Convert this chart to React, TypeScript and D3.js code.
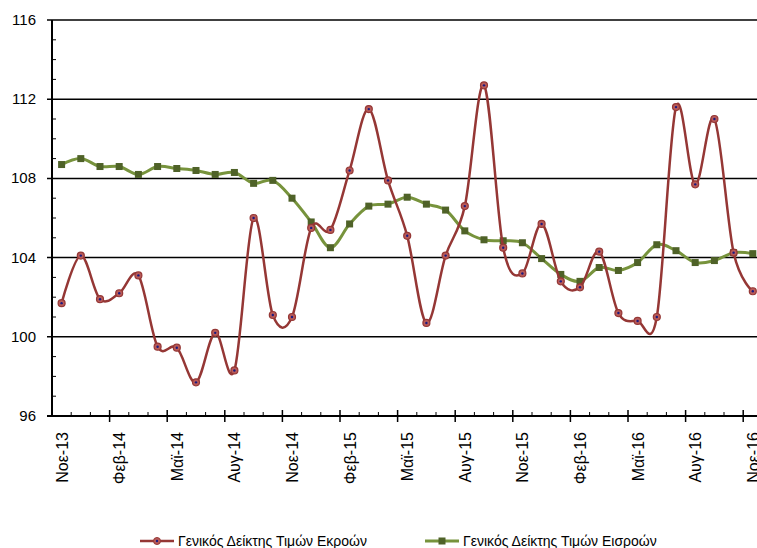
import React, { useEffect, useRef } from 'react';
import * as d3 from 'd3';

// monthly categories, Nov-13 .. Nov-16
const months = [
  'Νοε-13', 'Δεκ-13', 'Ιαν-14', 'Φεβ-14', 'Μαρ-14', 'Απρ-14', 'Μαϊ-14', 'Ιουν-14', 'Ιουλ-14', 'Αυγ-14',
  'Σεπ-14', 'Οκτ-14', 'Νοε-14', 'Δεκ-14', 'Ιαν-15', 'Φεβ-15', 'Μαρ-15', 'Απρ-15', 'Μαϊ-15', 'Ιουν-15',
  'Ιουλ-15', 'Αυγ-15', 'Σεπ-15', 'Οκτ-15', 'Νοε-15', 'Δεκ-15', 'Ιαν-16', 'Φεβ-16', 'Μαρ-16', 'Απρ-16',
  'Μαϊ-16', 'Ιουν-16', 'Ιουλ-16', 'Αυγ-16', 'Σεπ-16', 'Οκτ-16', 'Νοε-16',
];

const outputIndex = [
  101.7, 104.1, 101.9, 102.2, 103.1, 99.5, 99.45, 97.7, 100.2, 98.3,
  106.0, 101.1, 101.0, 105.5, 105.4, 108.4, 111.5, 107.9, 105.1, 100.7,
  104.1, 106.6, 112.7, 104.5, 103.2, 105.7, 102.8, 102.5, 104.3, 101.2,
  100.8, 101.0, 111.6, 107.7, 111.0, 104.25, 102.3,
];

const inputIndex = [
  108.7, 109.0, 108.6, 108.6, 108.2, 108.6, 108.5, 108.4, 108.2, 108.3,
  107.75, 107.9, 107.0, 105.8, 104.5, 105.7, 106.6, 106.7, 107.05, 106.7,
  106.4, 105.35, 104.9, 104.85, 104.75, 103.95, 103.15, 102.8, 103.5, 103.35,
  103.75, 104.65, 104.35, 103.75, 103.85, 104.25, 104.2,
];

const yTicks = [96, 100, 104, 108, 112, 116];

const seriesNames = ['Γενικός Δείκτης Τιμών Εκροών', 'Γενικός Δείκτης Τιμών Εισροών'];

const RED = '#953735';
const GREEN = '#77933c';

const App = () => {
  const ref = useRef<SVGSVGElement>(null);

  useEffect(() => {
    const svg = d3.select(ref.current);
    svg.selectAll('*').remove();

    const left = 52;
    const top = 20;
    const bottom = 416;
    const step = 19.2;

    // category axis: each month takes one band, point in the middle
    const x = d3
      .scaleBand<number>()
      .domain(d3.range(months.length))
      .range([left, left + step * months.length]);
    const cx = (i: number) => (x(i) as number) + x.bandwidth() / 2;

    const y = d3.scaleLinear().domain([96, 116]).range([bottom, top]);

    // gridlines
    svg
      .append('g')
      .selectAll('line')
      .data(yTicks.filter((t) => t > 96))
      .enter()
      .append('line')
      .attr('x1', left - 5)
      .attr('x2', 757)
      .attr('y1', (d) => y(d))
      .attr('y2', (d) => y(d))
      .attr('stroke', '#000')
      .attr('stroke-width', 1.5);

    // y minor ticks (inside)
    svg
      .append('g')
      .selectAll('line')
      .data(d3.range(97, 116).filter((v) => v % 4 !== 0))
      .enter()
      .append('line')
      .attr('x1', left)
      .attr('x2', left + 4)
      .attr('y1', (d) => y(d))
      .attr('y2', (d) => y(d))
      .attr('stroke', '#000')
      .attr('stroke-width', 1);

    // y labels
    svg
      .append('g')
      .selectAll('text')
      .data(yTicks)
      .enter()
      .append('text')
      .attr('x', 36)
      .attr('y', (d) => y(d) + 5)
      .attr('text-anchor', 'end')
      .style('font-family', 'Liberation Sans, sans-serif')
      .style('font-size', '15px')
      .attr('fill', '#000')
      .text((d) => d);

    // y axis line
    svg
      .append('line')
      .attr('x1', left)
      .attr('x2', left)
      .attr('y1', top)
      .attr('y2', bottom + 1)
      .attr('stroke', '#000')
      .attr('stroke-width', 2);

    // x axis line + ticks between categories
    svg
      .append('line')
      .attr('x1', left - 5)
      .attr('x2', 757)
      .attr('y1', bottom)
      .attr('y2', bottom)
      .attr('stroke', '#000')
      .attr('stroke-width', 2);

    const bounds = d3.range(1, months.length + 1);
    svg
      .append('g')
      .selectAll('line')
      .data(bounds)
      .enter()
      .append('line')
      .attr('x1', (d) => left + d * step)
      .attr('x2', (d) => left + d * step)
      .attr('y1', (d) => (d % 3 === 0 ? bottom - 6 : bottom - 4))
      .attr('y2', (d) => (d % 3 === 0 ? bottom + 6 : bottom))
      .attr('stroke', '#000')
      .attr('stroke-width', (d) => (d % 3 === 0 ? 1.5 : 1));

    // x labels every 3 months
    svg
      .append('g')
      .selectAll('text')
      .data(d3.range(0, months.length, 3))
      .enter()
      .append('text')
      .attr('transform', (d) => `translate(${cx(d) + 6},${bottom + 16}) rotate(-90)`)
      .attr('text-anchor', 'end')
      .style('font-family', 'Liberation Sans, sans-serif')
      .style('font-size', '16px')
      .attr('fill', '#000')
      .text((d) => months[d]);

    const line = d3
      .line<number>()
      .x((_, i) => cx(i))
      .y((d) => y(d))
      .curve(d3.curveCardinal.tension(0));

    // input index (green, squares)
    svg
      .append('path')
      .datum(inputIndex)
      .attr('fill', 'none')
      .attr('stroke', GREEN)
      .attr('stroke-width', 3)
      .attr('d', line);

    svg
      .append('g')
      .selectAll('rect')
      .data(inputIndex)
      .enter()
      .append('rect')
      .attr('x', (_, i) => cx(i) - 3.5)
      .attr('y', (d) => y(d) - 3.5)
      .attr('width', 7)
      .attr('height', 7)
      .attr('fill', '#4f6228');

    // output index (red, circles)
    svg
      .append('path')
      .datum(outputIndex)
      .attr('fill', 'none')
      .attr('stroke', RED)
      .attr('stroke-width', 2.5)
      .attr('d', line);

    const dots = svg.append('g');
    dots
      .selectAll('circle.o')
      .data(outputIndex)
      .enter()
      .append('circle')
      .attr('class', 'o')
      .attr('cx', (_, i) => cx(i))
      .attr('cy', (d) => y(d))
      .attr('r', 3.5)
      .attr('fill', '#b85a58')
      .attr('stroke', RED)
      .attr('stroke-width', 1.2);
    dots
      .selectAll('circle.c')
      .data(outputIndex)
      .enter()
      .append('circle')
      .attr('class', 'c')
      .attr('cx', (_, i) => cx(i))
      .attr('cy', (d) => y(d))
      .attr('r', 1.2)
      .attr('fill', '#1a1a80');

    // legend
    const legend = [
      { name: seriesNames[0], x: 140, color: RED, marker: 'circle' },
      { name: seriesNames[1], x: 425, color: GREEN, marker: 'rect' },
    ];
    legend.forEach((item) => {
      const g = svg.append('g').attr('transform', `translate(${item.x},541)`);
      g.append('line')
        .attr('x1', 0)
        .attr('x2', 34)
        .attr('stroke', item.color)
        .attr('stroke-width', item.marker === 'rect' ? 3 : 2.5);
      if (item.marker === 'circle') {
        g.append('circle').attr('cx', 17).attr('r', 3.5).attr('fill', '#b85a58').attr('stroke', RED);
        g.append('circle').attr('cx', 17).attr('r', 1.2).attr('fill', '#1a1a80');
      } else {
        g.append('rect').attr('x', 13.5).attr('y', -3.5).attr('width', 7).attr('height', 7).attr('fill', '#4f6228');
      }
      g.append('text')
        .attr('x', 38)
        .attr('y', 5)
        .style('font-family', 'Liberation Sans Narrow, Liberation Sans, sans-serif')
        .style('font-size', '14px')
        .attr('fill', '#000')
        .text(item.name);
    });
  }, []);

  return (
    <svg
      ref={ref}
      width={757}
      height={548}
      style={{ position: 'absolute', left: 0, top: 0, background: '#fff' }}
    />
  );
};

export default App;
